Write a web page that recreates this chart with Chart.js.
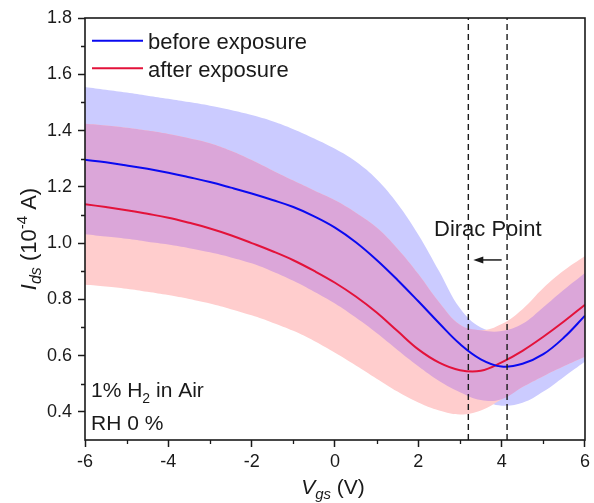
<!DOCTYPE html>
<html>
<head>
<meta charset="utf-8">
<script src="https://cdn.jsdelivr.net/npm/chart.js@4.4.1/dist/chart.umd.min.js"></script>
<style>
html,body{margin:0;padding:0;background:#fff;}
#wrap{width:594px;height:503px;position:relative;}
</style>
</head>
<body>
<div id="wrap"><canvas id="c" width="594" height="503"></canvas></div>
<script>
// ---- data ----
const vgs = [-6,-5.5,-5,-4.5,-4,-3.5,-3,-2.5,-2,-1.5,-1,-0.5,0,0.5,1,1.5,2,2.5,3,3.5,4,4.5,5,5.5,6];
const beforeMean  = [1.296,1.287,1.276,1.264,1.250,1.234,1.217,1.197,1.176,1.153,1.128,1.095,1.055,1.003,0.940,0.869,0.793,0.715,0.641,0.587,0.561,0.571,0.605,0.665,0.742];
const beforeUpper = [1.555,1.545,1.535,1.524,1.513,1.501,1.488,1.473,1.455,1.433,1.405,1.372,1.335,1.290,1.227,1.140,1.030,0.900,0.768,0.700,0.687,0.713,0.772,0.835,0.894];
const beforeLower = [1.031,1.023,1.015,1.005,0.995,0.982,0.967,0.949,0.928,0.899,0.866,0.827,0.785,0.735,0.680,0.620,0.562,0.510,0.470,0.442,0.422,0.432,0.472,0.525,0.579];
const afterMean   = [1.138,1.128,1.117,1.104,1.090,1.072,1.052,1.028,1.000,0.971,0.939,0.901,0.859,0.810,0.753,0.687,0.622,0.575,0.548,0.546,0.576,0.617,0.667,0.722,0.781];
const afterUpper  = [1.424,1.418,1.410,1.400,1.388,1.373,1.355,1.328,1.295,1.258,1.222,1.187,1.152,1.108,1.055,0.980,0.890,0.790,0.710,0.690,0.712,0.765,0.840,0.903,0.954];
const afterLower  = [0.852,0.846,0.838,0.827,0.815,0.801,0.785,0.765,0.743,0.717,0.688,0.652,0.610,0.565,0.518,0.472,0.433,0.405,0.391,0.405,0.445,0.488,0.527,0.563,0.596];
const yTickValues = [0.4,0.6,0.8,1.0,1.2,1.4,1.6,1.8];
const yMinorValues = [0.5,0.7,0.9,1.1,1.3,1.5,1.7];
const xTickValues = [-6,-4,-2,0,2,4,6];
const xMinorValues = [-5,-3,-1,1,3,5];
const diracBefore = 4.13;
const diracAfter = 3.2;
const seriesNames = ['before exposure','after exposure'];

// ---- helpers ----
const pts = arr => arr.map((v,i)=>({x:vgs[i], y:v}));
const overlapLower = beforeLower.map((v,i)=>Math.max(v, afterLower[i]));
const overlapUpper = beforeUpper.map((v,i)=>Math.min(v, afterUpper[i]));

const BLUE = '#0a0af0';
const RED = '#e3123a';
const LAV = 'rgb(203,203,255)';
const PINK = 'rgb(255,205,205)';
const PURP = 'rgb(219,166,217)';
const INK = '#1a1a1a';
const FONT = "'Liberation Sans', Arial, sans-serif";
const TENSION = 0.4;

const bandBase = {pointRadius:0, borderWidth:0, tension:TENSION, showLine:true};

const decor = {
  id:'decor',
  afterDraw(chart){
    const {ctx, chartArea:a, scales:{x,y}} = chart;
    ctx.save();
    // frame
    ctx.strokeStyle = INK; ctx.lineWidth = 1.6;
    ctx.strokeRect(a.left, a.top, a.right-a.left, a.bottom-a.top);
    // minor ticks
    ctx.lineWidth = 1.3;
    ctx.beginPath();
    yMinorValues.forEach(v=>{const p=Math.round(y.getPixelForValue(v))+0.5; ctx.moveTo(a.left-4,p); ctx.lineTo(a.left,p);});
    xMinorValues.forEach(v=>{const p=Math.round(x.getPixelForValue(v))+0.5; ctx.moveTo(p,a.bottom); ctx.lineTo(p,a.bottom+4);});
    ctx.stroke();

    ctx.fillStyle = INK;
    ctx.textBaseline = 'alphabetic';
    // legend
    ctx.lineWidth = 2;
    [[BLUE,40.7,48.5],[RED,68.3,76.5]].forEach((r,i)=>{
      ctx.strokeStyle = r[0];
      ctx.beginPath(); ctx.moveTo(92,r[1]); ctx.lineTo(143,r[1]); ctx.stroke();
      ctx.font = '22px ' + FONT; ctx.textAlign='left';
      ctx.fillText(seriesNames[i], 148, r[2]);
    });

    // Dirac point label and arrow
    ctx.font = '22px ' + FONT; ctx.textAlign='left';
    ctx.fillText('Dirac Point', 434, 235.5);
    const ay = y.getPixelForValue(0.94);
    const ax1 = x.getPixelForValue(4.0), ax2 = x.getPixelForValue(3.32);
    ctx.strokeStyle = INK; ctx.lineWidth = 1.5;
    ctx.beginPath(); ctx.moveTo(ax1, ay); ctx.lineTo(ax2+6, ay); ctx.stroke();
    ctx.beginPath(); ctx.moveTo(ax2, ay); ctx.lineTo(ax2+10, ay-3.5); ctx.lineTo(ax2+10, ay+3.5); ctx.closePath(); ctx.fill();

    // condition text
    ctx.font = '21px ' + FONT;
    let t = '1% H'; ctx.fillText(t, 91, 397); let w = ctx.measureText(t).width;
    ctx.font = '14px ' + FONT; ctx.fillText('2', 91+w, 403); let w2 = ctx.measureText('2').width;
    ctx.font = '21px ' + FONT; ctx.fillText(' in Air', 91+w+w2, 397);
    ctx.fillText('RH 0 %', 91, 430);

    // x title
    const segsX = [['V','italic 21px',0],['gs','italic 15px',5],[' (V)','21px',0]];
    let tw = 0; segsX.forEach(s=>{ctx.font=s[1]+' '+FONT; tw+=ctx.measureText(s[0]).width;});
    let cx = 333 - tw/2;
    segsX.forEach(s=>{ctx.font=s[1]+' '+FONT; ctx.fillText(s[0], cx, 494+s[2]); cx+=ctx.measureText(s[0]).width;});

    // y title (rotated)
    ctx.translate(36, 239); ctx.rotate(-Math.PI/2);
    const segsY = [['I','italic 22px',0],['ds','italic 16px',5],[' (10','22px',0],['-4','15px',-9],[' A)','22px',0]];
    tw = 0; segsY.forEach(s=>{ctx.font=s[1]+' '+FONT; tw+=ctx.measureText(s[0]).width;});
    cx = -tw/2;
    segsY.forEach(s=>{ctx.font=s[1]+' '+FONT; ctx.fillText(s[0], cx, s[2]); cx+=ctx.measureText(s[0]).width;});
    ctx.restore();
  }
};

new Chart(document.getElementById('c'), {
  type:'line',
  data:{datasets:[
    Object.assign({data:pts(beforeLower), fill:false, order:9}, bandBase),
    Object.assign({data:pts(beforeUpper), fill:{target:0}, backgroundColor:LAV, order:8}, bandBase),
    Object.assign({data:pts(afterLower), fill:false, order:7}, bandBase),
    Object.assign({data:pts(afterUpper), fill:{target:2}, backgroundColor:PINK, order:6}, bandBase),
    Object.assign({data:pts(overlapLower), fill:false, order:5}, bandBase),
    Object.assign({data:pts(overlapUpper), fill:{target:4}, backgroundColor:PURP, order:4}, bandBase),
    {data:pts(afterMean), borderColor:RED, borderWidth:2, pointRadius:0, tension:TENSION, fill:false, order:3},
    {data:pts(beforeMean), borderColor:BLUE, borderWidth:2, pointRadius:0, tension:TENSION, fill:false, order:2},
    {data:[{x:diracAfter,y:0.3},{x:diracAfter,y:1.8}], borderColor:INK, borderWidth:1.4, borderDash:[6,4], pointRadius:0, fill:false, order:1},
    {data:[{x:diracBefore,y:0.3},{x:diracBefore,y:1.8}], borderColor:INK, borderWidth:1.4, borderDash:[6,4], pointRadius:0, fill:false, order:1}
  ]},
  options:{
    responsive:false, animation:false,
    layout:{padding:{top:18,right:9,left:0,bottom:0}},
    plugins:{legend:{display:false}, tooltip:{enabled:false}},
    scales:{
      x:{type:'linear', min:-6, max:6,
        afterBuildTicks:s=>{s.ticks = xTickValues.map(v=>({value:v}));},
        afterFit:s=>{s.height = 63;},
        border:{display:false},
        grid:{drawOnChartArea:false, drawTicks:true, tickLength:7, tickColor:INK, tickWidth:1.5},
        ticks:{color:INK, font:{family:FONT, size:18}, padding:4, maxRotation:0, callback:v=>String(v)}
      },
      y:{type:'linear', min:0.3, max:1.8,
        afterBuildTicks:s=>{s.ticks = yTickValues.map(v=>({value:v}));},
        afterFit:s=>{s.width = 85;},
        border:{display:false},
        grid:{drawOnChartArea:false, drawTicks:true, tickLength:7, tickColor:INK, tickWidth:1.5},
        ticks:{color:INK, font:{family:FONT, size:18}, padding:6, callback:v=>Number(v).toFixed(1)}
      }
    }
  },
  plugins:[decor]
});
</script>
</body>
</html>
